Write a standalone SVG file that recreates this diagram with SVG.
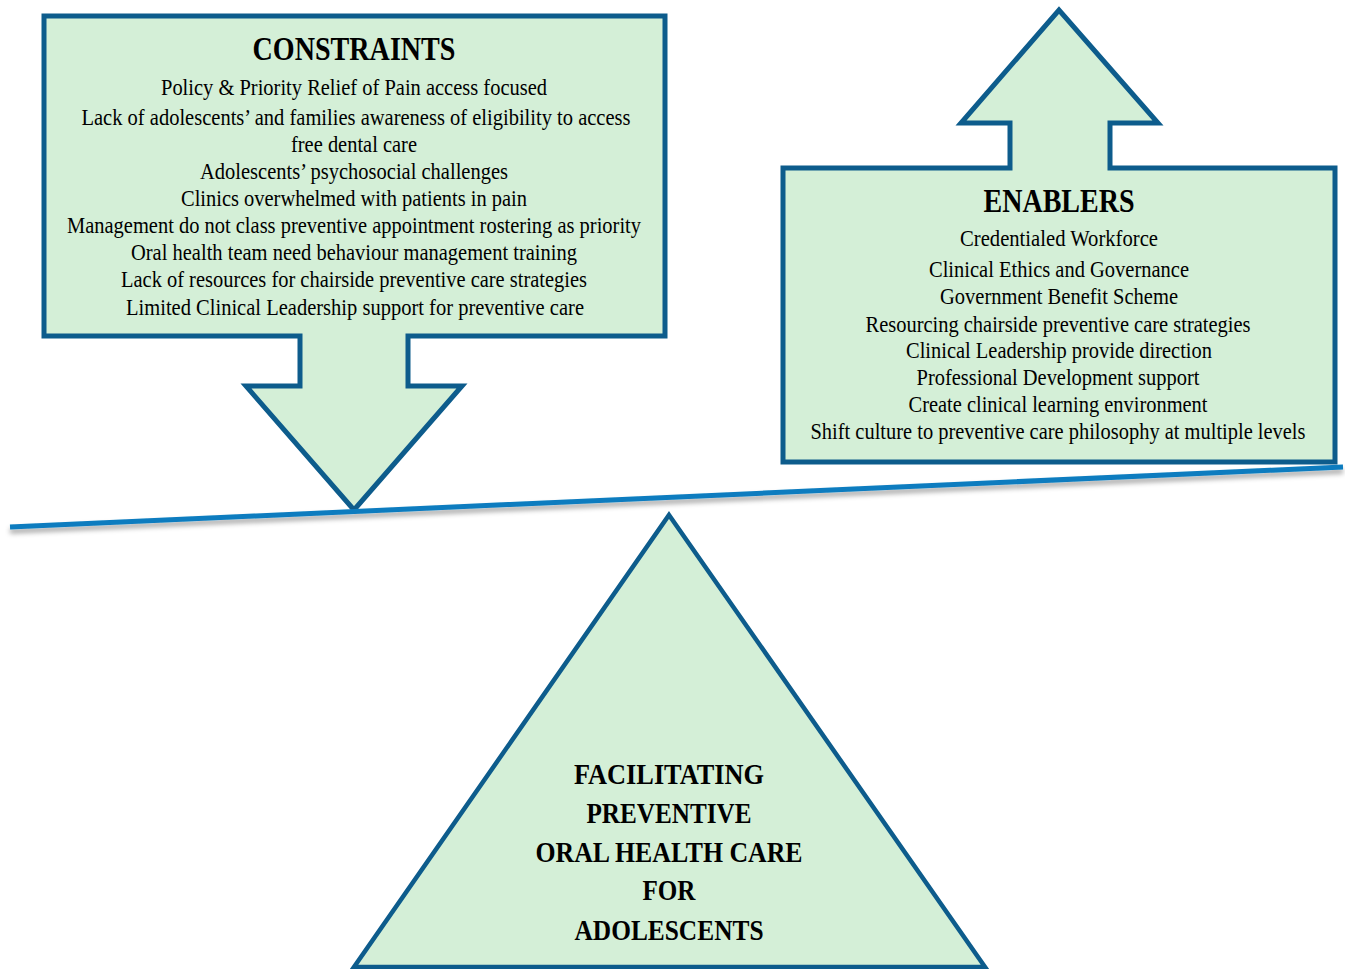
<svg xmlns="http://www.w3.org/2000/svg" width="1345" height="969" viewBox="0 0 1345 969">
<defs>
<style>
.shape{fill:#d4efd7;stroke:#0d5c8c;stroke-width:5;stroke-linejoin:miter}
.tri{fill:#d4efd7;stroke:#0d5c8c;stroke-width:4.5}
text{font-family:"Liberation Serif","Times New Roman",serif;fill:#000;text-anchor:middle}
.t{font-size:23px}
.h{font-size:33px;font-weight:bold}
.b{font-size:30px;font-weight:bold}
</style>
<filter id="sh" x="-5%" y="-200%" width="110%" height="500%">
<feDropShadow dx="0" dy="4" stdDeviation="2.5" flood-color="#000" flood-opacity="0.35"/>
</filter>
</defs>
<rect width="1345" height="969" fill="#fff"/>
<g id="fulcrum">
<path class="tri" d="M669,515 L985,967 L354,967 Z"/>
<text class="b" x="669" y="784" textLength="190" lengthAdjust="spacingAndGlyphs">FACILITATING</text>
<text class="b" x="669" y="823" textLength="165" lengthAdjust="spacingAndGlyphs">PREVENTIVE</text>
<text class="b" x="669" y="862" textLength="267" lengthAdjust="spacingAndGlyphs">ORAL HEALTH CARE</text>
<text class="b" x="669" y="900" textLength="53" lengthAdjust="spacingAndGlyphs">FOR</text>
<text class="b" x="669" y="940" textLength="189" lengthAdjust="spacingAndGlyphs">ADOLESCENTS</text>
</g>
<g id="constraints">
<path class="shape" d="M44,16 H665 V336 H408 V386 H462 L354,510 L246,386 H300 V336 H44 Z"/>
<text class="h" x="354" y="60" textLength="203" lengthAdjust="spacingAndGlyphs">CONSTRAINTS</text>
<text class="t" x="354" y="95" textLength="386" lengthAdjust="spacingAndGlyphs">Policy &amp; Priority Relief of Pain access focused</text>
<text class="t" x="356" y="125" textLength="549" lengthAdjust="spacingAndGlyphs">Lack of adolescents’ and families awareness of eligibility to access</text>
<text class="t" x="354" y="152" textLength="126" lengthAdjust="spacingAndGlyphs">free dental care</text>
<text class="t" x="354" y="179" textLength="308" lengthAdjust="spacingAndGlyphs">Adolescents’ psychosocial challenges</text>
<text class="t" x="354" y="206" textLength="346" lengthAdjust="spacingAndGlyphs">Clinics overwhelmed with patients in pain</text>
<text class="t" x="354" y="233" textLength="574" lengthAdjust="spacingAndGlyphs">Management do not class preventive appointment rostering as priority</text>
<text class="t" x="354" y="260" textLength="446" lengthAdjust="spacingAndGlyphs">Oral health team need behaviour management training</text>
<text class="t" x="354" y="287" textLength="466" lengthAdjust="spacingAndGlyphs">Lack of resources for chairside preventive care strategies</text>
<text class="t" x="355" y="315" textLength="458" lengthAdjust="spacingAndGlyphs">Limited Clinical Leadership support for preventive care</text>
</g>
<g id="enablers">
<path class="shape" d="M783,168 H1010 V123 H961 L1059,10 L1158,123 H1110 V168 H1335 V462 H783 Z"/>
<text class="h" x="1059" y="212" textLength="151" lengthAdjust="spacingAndGlyphs">ENABLERS</text>
<text class="t" x="1059" y="246" textLength="198" lengthAdjust="spacingAndGlyphs">Credentialed Workforce</text>
<text class="t" x="1059" y="277" textLength="260" lengthAdjust="spacingAndGlyphs">Clinical Ethics and Governance</text>
<text class="t" x="1059" y="304" textLength="238" lengthAdjust="spacingAndGlyphs">Government Benefit Scheme</text>
<text class="t" x="1058" y="332" textLength="385" lengthAdjust="spacingAndGlyphs">Resourcing chairside preventive care strategies</text>
<text class="t" x="1059" y="358" textLength="306" lengthAdjust="spacingAndGlyphs">Clinical Leadership provide direction</text>
<text class="t" x="1058" y="385" textLength="283" lengthAdjust="spacingAndGlyphs">Professional Development support</text>
<text class="t" x="1058" y="412" textLength="299" lengthAdjust="spacingAndGlyphs">Create clinical learning environment</text>
<text class="t" x="1058" y="439" textLength="495" lengthAdjust="spacingAndGlyphs">Shift culture to preventive care philosophy at multiple levels</text>
</g>
<g id="connectors">
<line x1="10" y1="527" x2="1343" y2="467" stroke="#0a7cbf" stroke-width="5" filter="url(#sh)"/>
</g>
</svg>
